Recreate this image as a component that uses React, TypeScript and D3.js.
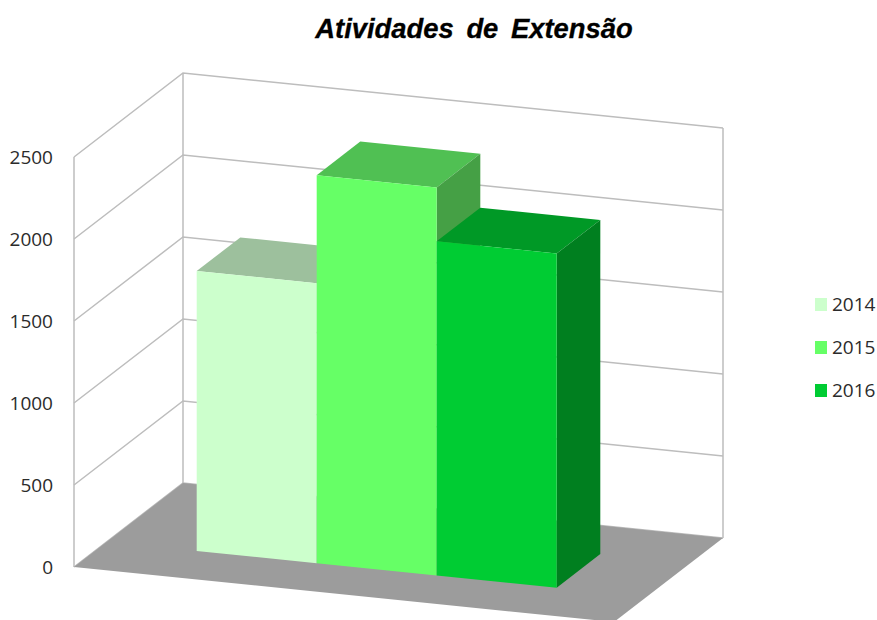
import React from 'react';
import * as d3 from 'd3';

const title = 'Atividades de Extensão';
const years = ['2014', '2015', '2016'];
const values = [1707, 2366, 2037];
const ticks = [0, 500, 1000, 1500, 2000, 2500];

const frontColors = ['#ccffcc', '#66ff66', '#00cc33'];
const topColors = ['#9dc09d', '#50c053', '#009926'];
const sideColors = ['#8fb58f', '#45a045', '#007f1f'];

const width = 877;
const height = 620;

// oblique projection: u runs along the categories, w runs into the depth
const uToX = d3.scaleLinear().domain([0, 1]).range([0, 540]);
const uToY = d3.scaleLinear().domain([0, 1]).range([0, 55]);
const wToX = d3.scaleLinear().domain([0, 1]).range([0, 109]);
const wToY = d3.scaleLinear().domain([0, 1]).range([0, -84]);
const valueY = d3.scaleLinear().domain([0, 2500]).range([567, 157]);

const band = d3.scaleBand().domain(years).range([0, 1]).paddingInner(0).paddingOuter(0.75);
const barFront = 0.3;
const barBack = 0.7;

const project = (u: number, w: number, v: number): [number, number] => [
  74 + uToX(u) + wToX(w),
  valueY(v) + uToY(u) + wToY(w),
];

const poly = (pts: [number, number][]) => d3.line()(pts) + 'Z';

const gridColor = '#bdbdbd';
const textColor = '#2b2b2b';
const labelFont = '"Open Sans", sans-serif';

export default function App() {
  const top = ticks[ticks.length - 1];
  const floor = poly([project(0, 0, 0), project(1, 0, 0), project(1, 1, 0), project(0, 1, 0)]);

  return (
    <svg
      width={width}
      height={height}
      viewBox={`0 0 ${width} ${height}`}
      style={{ position: 'absolute', left: 0, top: 0, background: '#fff' }}
    >
      <text
        x={474}
        y={38}
        textAnchor="middle"
        fontFamily='"Liberation Sans", Arial, sans-serif'
        fontWeight="bold"
        fontStyle="italic"
        fontSize={27.4}
        wordSpacing={5}
        fill="#000"
        stroke="#000"
        strokeWidth={0.3}
      >
        {title}
      </text>

      {/* walls */}
      <g fill="none" stroke={gridColor} strokeWidth={1.5}>
        {ticks.map((t) => (
          <path
            key={t}
            d={d3.line()([project(0, 0, t), project(0, 1, t), project(1, 1, t)]) ?? ''}
          />
        ))}
        <path d={d3.line()([project(0, 0, 0), project(0, 0, top)]) ?? ''} />
        <path d={d3.line()([project(0, 1, 0), project(0, 1, top)]) ?? ''} />
        <path d={d3.line()([project(1, 1, 0), project(1, 1, top)]) ?? ''} />
      </g>

      <path d={floor} fill="#9c9c9c" />

      {/* bars, painted left to right so the later ones cover the earlier */}
      {years.map((year, i) => {
        const u0 = band(year) ?? 0;
        const u1 = u0 + band.bandwidth();
        const v = values[i];
        return (
          <g key={year}>
            <path
              d={poly([project(u0, barFront, v), project(u1, barFront, v), project(u1, barBack, v), project(u0, barBack, v)])}
              fill={topColors[i]}
            />
            <path
              d={poly([project(u1, barFront, 0), project(u1, barBack, 0), project(u1, barBack, v), project(u1, barFront, v)])}
              fill={sideColors[i]}
            />
            <path
              d={poly([project(u0, barFront, 0), project(u1, barFront, 0), project(u1, barFront, v), project(u0, barFront, v)])}
              fill={frontColors[i]}
            />
          </g>
        );
      })}

      {/* value axis labels */}
      <g fontFamily={labelFont} fontSize={19} fill={textColor} textAnchor="end">
        {ticks.map((t) => (
          <text key={t} x={53} y={valueY(t)} dy="0.36em">
            {t}
          </text>
        ))}
      </g>

      {/* legend */}
      <g fontFamily={labelFont} fontSize={19} fill={textColor}>
        {years.map((year, i) => (
          <g key={year} transform={`translate(815,${298 + i * 43})`}>
            <rect width={12} height={13} fill={frontColors[i]} />
            <text x={17} y={13}>
              {year}
            </text>
          </g>
        ))}
      </g>
    </svg>
  );
}
